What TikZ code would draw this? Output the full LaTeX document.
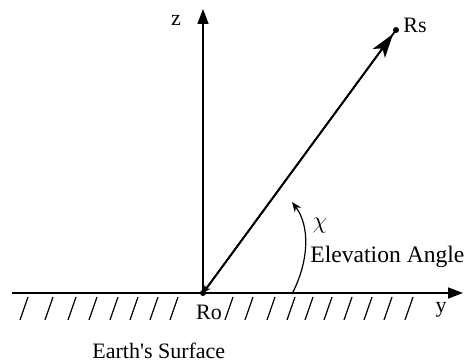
\documentclass[tikz,border=0pt]{standalone}
\usepackage{fontspec}
\setmainfont{Liberation Serif}
\usetikzlibrary{arrows.meta,calc}
\begin{document}
\begin{tikzpicture}[x=0.5pt,y=-0.5pt,
        every node/.style={font=\fontsize{11}{13}\selectfont, inner sep=1pt},
        eje/.style={line width=0.8pt, -{Triangle[length=7.5pt,width=5.5pt]}},
        rayo/.style={line width=0.9pt},
        rayado/.style={line width=0.6pt},
        punto/.style={circle, fill, inner sep=0pt, minimum size=3pt},
        angulo/.style={line width=0.6pt, -{Stealth[length=5pt,width=4pt]}}
    ]
    \useasboundingbox (0,0) rectangle (465,363);
    \node (Ro) [punto] at (203,293) {};
    \node (Rs) [punto] at (396,30) {};
    \coordinate (ztip) at (203,9);
    \coordinate (yini) at (12,293);
    \coordinate (ytip) at (463,293);
    \coordinate (a0) at (293,292);
    \coordinate (a1) at (292,202);

    \node (zlab) at (176,20) {z};
    \node (Rslab) [anchor=west] at (401,25) {Rs};
    \node (Rolab) at (209,312) {Ro};
    \node (ylab) at (441,310) {y};
    \node (chi) at (320,226) {\fontsize{13}{15}\selectfont$\chi$};
    \node (elev) [anchor=west, font=\fontsize{11.8}{13}\selectfont] at (308,257) {Elevation Angle};
    \node (tierra) [anchor=west] at (90,351) {Earth\textquotesingle s Surface};

    \draw [eje] (Ro.center) -- (ztip);
    \draw [eje] (yini) -- (ytip);
    \foreach \x in {28,53,76,97,118,138,158,178,233,253,275,295,313,332,352,372,392,413}
        \draw [rayado] (\x,297) -- ++(-8,23);

    \draw [rayo, {Stealth[length=4pt,width=3.5pt]}-] (Ro.center) -- (Rs.center);
    \draw [rayo, -{Stealth[length=12pt,width=7.5pt,inset=3pt]}] (Ro.center) -- ($(Ro.center)!0.985!(Rs.center)$);
    \draw [angulo] (a0) .. controls (309,260) and (310,226) .. (a1);
\end{tikzpicture}
\end{document}
